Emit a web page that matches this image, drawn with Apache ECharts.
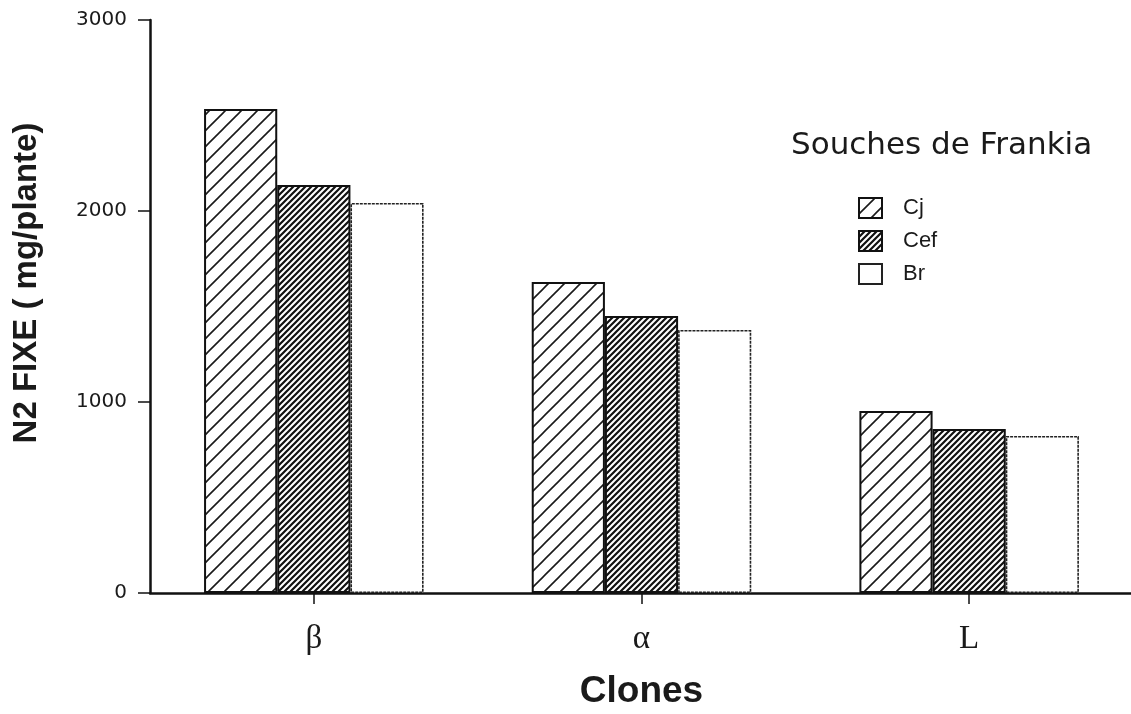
<!DOCTYPE html>
<html>
<head>
<meta charset="utf-8">
<script src="https://cdn.jsdelivr.net/npm/echarts@6/dist/echarts.min.js"></script>
<style>
html,body{margin:0;padding:0;background:#fff;}
#c{width:1131px;height:714px;}
</style>
</head>
<body>
<div id="c"></div>
<script>
const categories = ['β', 'α', 'L'];
const seriesNames = ['Cj', 'Cef', 'Br'];
const cjValues = [2534, 1628, 953];
const cefValues = [2136, 1450, 859];
const brValues = [2042, 1377, 822];
const yTicks = [0, 1000, 2000, 3000];
const yAxisTitle = 'N2 FIXE ( mg/plante)';
const xAxisTitle = 'Clones';
const legendTitle = 'Souches de Frankia';

function hatch(size, lw, bg, fg) {
  const c = document.createElement('canvas');
  c.width = size; c.height = size;
  const g = c.getContext('2d');
  g.fillStyle = bg; g.fillRect(0, 0, size, size);
  g.strokeStyle = fg; g.lineWidth = lw; g.lineCap = 'square';
  g.beginPath();
  g.moveTo(-1, size + 1); g.lineTo(size + 1, -1);
  g.moveTo(-size / 2 - 1, size / 2 + 1); g.lineTo(size / 2 + 1, -size / 2 - 1);
  g.moveTo(size / 2 - 1, size * 1.5 + 1); g.lineTo(size * 1.5 + 1, size / 2 - 1);
  g.stroke();
  return c;
}
const cjPattern = { image: hatch(16, 1.6, '#ffffff', '#1a1a1a'), repeat: 'repeat' };
const cefPattern = { image: hatch(6, 2.2, '#ffffff', '#111111'), repeat: 'repeat' };

const chart = echarts.init(document.getElementById('c'));
const valueArrays = [cjValues, cefValues, brValues];
const styles = [
  { color: cjPattern, borderColor: '#111', borderWidth: 2 },
  { color: cefPattern, borderColor: '#111', borderWidth: 2 },
  { color: '#ffffff', borderColor: '#222', borderWidth: 1.6, borderType: [3, 1] }
];

chart.setOption({
  backgroundColor: '#ffffff',
  animation: false,
  title: {
    text: legendTitle,
    left: 786, top: 125,
    textStyle: { fontFamily: 'DejaVu Sans, sans-serif', fontSize: 31, fontWeight: 'normal', color: '#1a1a1a' }
  },
  legend: {
    orient: 'vertical',
    left: 853, top: 192,
    itemWidth: 23, itemHeight: 20, itemGap: 11,
    icon: 'rect',
    data: seriesNames,
    textStyle: { fontFamily: 'Liberation Sans, Arial, sans-serif', fontSize: 22, color: '#1a1a1a', padding: [0, 0, 0, 16] }
  },
  graphic: [{
    type: 'text',
    x: 27, y: 283,
    rotation: Math.PI / 2,
    style: {
      text: yAxisTitle,
      align: 'center', verticalAlign: 'middle',
      font: 'bold 33px "Liberation Sans", Arial, sans-serif',
      fill: '#1a1a1a'
    }
  }],
  grid: { left: 150, top: 20, width: 983, height: 573, outerBoundsMode: 'none', containLabel: false },
  xAxis: {
    type: 'category',
    data: categories,
    name: xAxisTitle,
    nameLocation: 'middle',
    nameGap: 80,
    nameTextStyle: { fontFamily: 'Liberation Sans, Arial, sans-serif', fontSize: 37, fontWeight: 'bold', color: '#1a1a1a' },
    axisLine: { lineStyle: { color: '#111', width: 2.5 } },
    axisTick: { show: true, alignWithLabel: true, length: 11, lineStyle: { color: '#111', width: 1.5 } },
    axisLabel: { margin: 30, fontFamily: 'Liberation Serif, DejaVu Serif, serif', fontSize: 33, color: '#1a1a1a' }
  },
  yAxis: {
    type: 'value',
    min: 0, max: 3000, interval: 1000,
    splitLine: { show: false },
    axisLine: { show: true, lineStyle: { color: '#111', width: 2.5 } },
    axisTick: { show: true, length: 12, lineStyle: { color: '#111', width: 1.5 } },
    axisLabel: {
      margin: 23,
      fontFamily: 'DejaVu Sans, sans-serif', fontSize: 20, color: '#1a1a1a',
      formatter: v => yTicks.includes(v) ? String(v) : ''
    }
  },
  series: seriesNames.map((n, i) => ({
    name: n,
    type: 'bar',
    data: valueArrays[i],
    barGap: '0%',
    barCategoryGap: '33%',
    itemStyle: styles[i]
  }))
});
</script>
</body>
</html>
